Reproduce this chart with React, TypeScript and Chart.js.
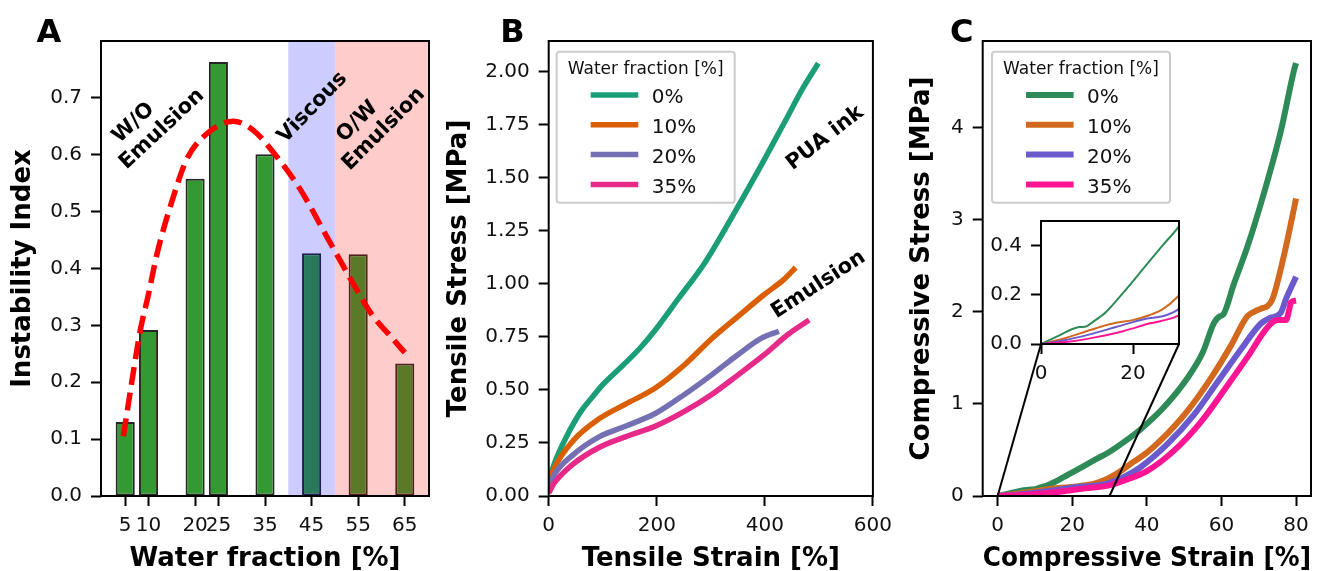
import React, { useEffect, useRef } from 'react';
import { Chart, registerables } from 'chart.js';

Chart.register(...registerables);

const FONT = "'DejaVu Sans', 'Liberation Sans', sans-serif";

// ---------- Panel A data ----------
const A_WATER = [5, 10, 20, 25, 35, 45, 55, 65];
const A_INSTABILITY = [0.13, 0.292, 0.558, 0.763, 0.601, 0.427, 0.425, 0.233];
const A_FIT_X = [4.6, 6.4, 8.2, 10, 11.8, 15.4, 18.2, 22.5, 28.2, 32.5, 36.8, 42.5, 48.2, 53.9, 58.2, 61.5, 65];
const A_FIT_Y = [0.105, 0.2, 0.29, 0.355, 0.425, 0.528, 0.592, 0.637, 0.659, 0.643, 0.604, 0.54, 0.457, 0.374, 0.316, 0.285, 0.252];
const A_X_TICKS = [5, 10, 20, 25, 35, 45, 55, 65];
const A_Y_TICKS = [0, 0.1, 0.2, 0.3, 0.4, 0.5, 0.6, 0.7];
const A_VISCOUS = [40, 50];
const A_OW = [50, 71];

// ---------- Panel B data ----------
const B_LABELS = ['0%', '10%', '20%', '35%'];
const B_STRAIN_0 = [0, 10, 33, 60, 82, 100, 137, 170, 198, 240, 289, 338, 387, 435, 472, 499];
const B_STRESS_0 = [0.07, 0.15, 0.28, 0.4, 0.47, 0.525, 0.615, 0.7, 0.785, 0.93, 1.1, 1.31, 1.53, 1.755, 1.93, 2.04];
const B_STRAIN_10 = [0, 10, 45, 94, 143, 198, 252, 301, 350, 399, 435, 457];
const B_STRESS_10 = [0.057, 0.13, 0.26, 0.365, 0.434, 0.51, 0.62, 0.74, 0.846, 0.95, 1.02, 1.077];
const B_STRAIN_20 = [0, 10, 45, 94, 143, 198, 252, 301, 350, 393, 426];
const B_STRESS_20 = [0.04, 0.1, 0.194, 0.28, 0.33, 0.39, 0.48, 0.57, 0.666, 0.743, 0.777];
const B_STRAIN_35 = [0, 10, 45, 94, 143, 198, 252, 301, 350, 399, 442, 482];
const B_STRESS_35 = [0.014, 0.06, 0.15, 0.23, 0.28, 0.33, 0.4, 0.477, 0.57, 0.666, 0.76, 0.83];
const B_X_TICKS = [0, 200, 400, 600];
const B_Y_TICKS = [0, 0.25, 0.5, 0.75, 1.0, 1.25, 1.5, 1.75, 2.0];

// ---------- Panel C data ----------
const C_LABELS = ['0%', '10%', '20%', '35%'];
const C_STRAIN_0 = [0, 3.4, 7, 8.4, 9.6, 11.3, 14.2, 17.8, 22.1, 26.4, 29.6, 34, 38.2, 44.5, 50.8, 55, 58, 59.5, 60.5, 63.3, 66.9, 71.4, 75.9, 79.5, 80];
const C_STRESS_0 = [0, 0.03, 0.062, 0.069, 0.07, 0.09, 0.131, 0.207, 0.303, 0.4, 0.469, 0.59, 0.72, 0.96, 1.275, 1.56, 1.88, 1.95, 1.97, 2.3, 2.7, 3.29, 3.96, 4.63, 4.7];
const C_STRAIN_10 = [0, 4.8, 9.9, 13, 16.3, 19.9, 23.5, 26.4, 29.6, 33, 36.4, 40, 43.6, 50.8, 57.1, 62.5, 66.9, 68.7, 71, 72.3, 73.7, 76.8, 80];
const C_STRESS_10 = [0, 0.021, 0.052, 0.07, 0.086, 0.097, 0.117, 0.141, 0.19, 0.27, 0.37, 0.47, 0.6, 0.92, 1.275, 1.63, 1.95, 2.0, 2.04, 2.06, 2.14, 2.62, 3.23];
const C_STRAIN_20 = [0, 4.8, 10.6, 16.3, 22.8, 26.4, 29.6, 34, 38.2, 45.4, 52.6, 58.9, 65.2, 70.5, 72.8, 75.9, 77.3, 80];
const C_STRESS_20 = [0, 0.014, 0.039, 0.069, 0.103, 0.113, 0.138, 0.21, 0.31, 0.56, 0.88, 1.235, 1.59, 1.87, 1.93, 1.99, 2.14, 2.38];
const C_STRAIN_35 = [0, 6.3, 12, 17.8, 23.5, 29.6, 34, 40, 47.2, 54.4, 61.6, 67, 72.3, 75, 77.3, 78.2, 78.6, 80];
const C_STRESS_35 = [0, 0.01, 0.028, 0.052, 0.083, 0.113, 0.17, 0.27, 0.49, 0.8, 1.2, 1.51, 1.83, 1.91, 1.91, 2.03, 2.1, 2.12];
const C_X_TICKS = [0, 20, 40, 60, 80];
const C_Y_TICKS = [0, 1, 2, 3, 4];
const INSET_X_TICKS = [0, 20];
const INSET_Y_TICKS = [0, 0.2, 0.4];

const LEGEND_TITLE = 'Water fraction [%]';
const B_COLORS = ['#1b9e77', '#d95f02', '#7570b3', '#e7298a'];
const C_COLORS = ['#2e8b57', '#d2691e', '#6a5acd', '#ff1493'];

// ---------- layout (page px) ----------
const A_POS = { left: 0, top: 0, width: 440, height: 571 };
const B_POS = { left: 440, top: 0, width: 460, height: 571 };
const C_POS = { left: 900, top: 0, width: 419, height: 571 };
const INSET_POS = { left: 980, top: 200, width: 210, height: 190 };

const TICK_FONT = 20;
const TITLE_FONT = 26;

const pts = (xs: number[], ys: number[]) => xs.map((x, i) => ({ x, y: ys[i] }));

type AxisCfg = {
  min: number; max: number; ticks: number[]; fmt: (v: number) => string;
  size: number; horizontal: boolean; title?: string; titlePad?: number;
};

function makeAxis(c: AxisCfg): any {
  return {
    type: 'linear',
    min: c.min,
    max: c.max,
    offset: false,
    afterBuildTicks: (s: any) => { s.ticks = c.ticks.map((v) => ({ value: v })); },
    afterFit: (s: any) => { if (c.horizontal) s.height = c.size; else s.width = c.size; },
    grid: { display: true, drawOnChartArea: false, drawTicks: true, tickLength: 10, tickWidth: 2, tickColor: '#000', offset: false },
    border: { display: false },
    ticks: {
      autoSkip: false, maxRotation: 0, minRotation: 0,
      padding: c.horizontal ? 8 : 9,
      color: '#111',
      font: { family: FONT, size: TICK_FONT },
      callback: (v: any) => c.fmt(Number(v)),
    },
    title: c.title
      ? {
          display: true, text: c.title, color: '#000',
          font: { family: FONT, size: TITLE_FONT, weight: 'bold', lineHeight: c.horizontal ? 0.9 : 1 },
          padding: c.horizontal ? { top: 0, bottom: 0 } : { top: c.titlePad ?? 0, bottom: 0 },
        }
      : { display: false },
  };
}

const framePlugin = {
  id: 'frame',
  afterDatasetsDraw(chart: any) {
    const { ctx, chartArea: ca } = chart;
    ctx.save();
    ctx.strokeStyle = '#000';
    ctx.lineWidth = 2;
    ctx.strokeRect(ca.left, ca.top, ca.width, ca.height);
    ctx.restore();
  },
};

function letterPlugin(letter: string, x: number, y: number) {
  return {
    id: 'letter' + letter,
    afterDraw(chart: any) {
      const ctx = chart.ctx;
      ctx.save();
      ctx.fillStyle = '#000';
      ctx.font = `bold 32px ${FONT}`;
      ctx.textAlign = 'left';
      ctx.textBaseline = 'alphabetic';
      ctx.fillText(letter, x, y);
      ctx.restore();
    },
  };
}

type Note = { text: string; x: number; y: number; angle: number };
function notesPlugin(notes: Note[]) {
  return {
    id: 'notes',
    afterDatasetsDraw(chart: any) {
      const { ctx, scales } = chart;
      ctx.save();
      ctx.fillStyle = '#000';
      ctx.font = `bold 21px ${FONT}`;
      ctx.textAlign = 'center';
      ctx.textBaseline = 'middle';
      for (const n of notes) {
        const px = scales.x.getPixelForValue(n.x);
        const py = scales.y.getPixelForValue(n.y);
        ctx.save();
        ctx.translate(px, py);
        ctx.rotate((-n.angle * Math.PI) / 180);
        ctx.fillText(n.text, 0, 0);
        ctx.restore();
      }
      ctx.restore();
    },
  };
}

function legendPlugin(dx: number, dy: number) {
  return {
    id: 'boxLegend',
    afterDatasetsDraw(chart: any) {
      const { ctx, chartArea: ca } = chart;
      const L = ca.left + dx;
      const T = ca.top + dy;
      const W = 178;
      const H = 151;
      const r = 3;
      ctx.save();
      ctx.beginPath();
      ctx.moveTo(L + r, T);
      ctx.lineTo(L + W - r, T);
      ctx.arcTo(L + W, T, L + W, T + r, r);
      ctx.lineTo(L + W, T + H - r);
      ctx.arcTo(L + W, T + H, L + W - r, T + H, r);
      ctx.lineTo(L + r, T + H);
      ctx.arcTo(L, T + H, L, T + H - r, r);
      ctx.lineTo(L, T + r);
      ctx.arcTo(L, T, L + r, T, r);
      ctx.closePath();
      ctx.fillStyle = 'rgba(255,255,255,0.85)';
      ctx.fill();
      ctx.strokeStyle = '#cccccc';
      ctx.lineWidth = 2;
      ctx.stroke();
      ctx.fillStyle = '#111';
      ctx.font = `17px ${FONT}`;
      ctx.textAlign = 'center';
      ctx.textBaseline = 'alphabetic';
      ctx.fillText(LEGEND_TITLE, L + W / 2, T + 22.6);
      chart.data.datasets.forEach((ds: any, i: number) => {
        const cy = T + 43.3 + i * 29.8;
        ctx.strokeStyle = ds.borderColor;
        ctx.lineWidth = ds.borderWidth;
        ctx.lineCap = 'butt';
        ctx.beginPath();
        ctx.moveTo(L + 34, cy);
        ctx.lineTo(L + 81.6, cy);
        ctx.stroke();
        ctx.fillStyle = '#111';
        ctx.font = `20px ${FONT}`;
        ctx.textAlign = 'left';
        ctx.fillText(ds.label, L + 95, T + 51.6 + i * 29.8);
      });
      ctx.restore();
    },
  };
}

const spanPlugin = {
  id: 'spans',
  afterDatasetDraw(chart: any, args: any) {
    if (args.index !== 0) return;
    const { ctx, chartArea: ca, scales } = chart;
    const spans = [
      { range: A_VISCOUS, color: 'rgba(0,0,255,0.2)' },
      { range: A_OW, color: 'rgba(255,0,0,0.2)' },
    ];
    ctx.save();
    ctx.beginPath();
    ctx.rect(ca.left, ca.top, ca.width, ca.height);
    ctx.clip();
    for (const s of spans) {
      const x0 = scales.x.getPixelForValue(s.range[0]);
      const x1 = scales.x.getPixelForValue(s.range[1]);
      ctx.fillStyle = s.color;
      ctx.fillRect(x0, ca.top, x1 - x0, ca.height);
    }
    ctx.restore();
  },
};

function lineSets(labels: string[], colors: string[], series: { x: number; y: number }[][], width: number) {
  const n = series.length;
  return series.map((d, i) => ({
    type: 'line',
    label: labels[i],
    data: d,
    borderColor: colors[i],
    backgroundColor: colors[i],
    borderWidth: width,
    pointRadius: 0,
    fill: false,
    cubicInterpolationMode: 'monotone',
    order: n - 1 - i,
  }));
}

export default function App() {
  const aRef = useRef<HTMLCanvasElement>(null);
  const bRef = useRef<HTMLCanvasElement>(null);
  const cRef = useRef<HTMLCanvasElement>(null);
  const iRef = useRef<HTMLCanvasElement>(null);

  useEffect(() => {
    const charts: Chart[] = [];
    const common = { responsive: false, animation: false as const, devicePixelRatio: 1, events: [] as any[] };

    // ----- Panel A -----
    const chartA = new Chart(aRef.current!, {
      type: 'bar',
      data: {
        datasets: [
          {
            type: 'bar',
            label: 'Instability index',
            data: pts(A_WATER, A_INSTABILITY),
            backgroundColor: '#339933',
            borderColor: 'rgba(0,0,0,0.85)',
            borderWidth: 2,
            borderSkipped: false,
            categoryPercentage: 1,
            barPercentage: 0.82,
            order: 1,
          } as any,
          {
            type: 'line',
            label: 'fit',
            data: pts(A_FIT_X, A_FIT_Y),
            borderColor: '#ff0000',
            borderWidth: 5.5,
            borderDash: [18, 8],
            pointRadius: 0,
            fill: false,
            cubicInterpolationMode: 'monotone',
            order: 0,
          } as any,
        ],
      },
      options: {
        ...common,
        layout: { padding: { left: 0, right: 11, top: 41, bottom: 0 } },
        plugins: { legend: { display: false }, tooltip: { enabled: false } },
        scales: {
          x: makeAxis({ min: -0.2, max: 70.2, ticks: A_X_TICKS, fmt: (v) => String(v), size: 75, horizontal: true, title: 'Water fraction [%]' }),
          y: makeAxis({ min: 0, max: 0.8, ticks: A_Y_TICKS, fmt: (v) => v.toFixed(1), size: 101, horizontal: false, title: 'Instability Index', titlePad: 10 }),
        },
      } as any,
      plugins: [
        spanPlugin,
        framePlugin,
        notesPlugin([
          { text: 'W/O', x: 6.8, y: 0.656, angle: 43 },
          { text: 'Emulsion', x: 12.9, y: 0.645, angle: 43 },
          { text: 'Viscous', x: 45.2, y: 0.683, angle: 46 },
          { text: 'O/W', x: 54.8, y: 0.658, angle: 45 },
          { text: 'Emulsion', x: 60.5, y: 0.645, angle: 45 },
        ]),
        letterPlugin('A', 36.5, 41.7),
      ] as any,
    });
    charts.push(chartA);

    // ----- Panel B -----
    const chartB = new Chart(bRef.current!, {
      type: 'line',
      data: {
        datasets: lineSets(B_LABELS, B_COLORS, [
          pts(B_STRAIN_0, B_STRESS_0),
          pts(B_STRAIN_10, B_STRESS_10),
          pts(B_STRAIN_20, B_STRESS_20),
          pts(B_STRAIN_35, B_STRESS_35),
        ], 5.5) as any,
      },
      options: {
        ...common,
        layout: { padding: { left: 0, right: 23.3, top: 41, bottom: 0 } },
        plugins: { legend: { display: false }, tooltip: { enabled: false } },
        scales: {
          x: makeAxis({ min: 0, max: 600, ticks: B_X_TICKS, fmt: (v) => String(v), size: 75, horizontal: true, title: 'Tensile Strain [%]' }),
          y: makeAxis({ min: 0, max: 2.145, ticks: B_Y_TICKS, fmt: (v) => v.toFixed(2), size: 108.7, horizontal: false, title: 'Tensile Stress [MPa]', titlePad: 6 }),
        },
      } as any,
      plugins: [
        framePlugin,
        legendPlugin(8, 10.7),
        notesPlugin([
          { text: 'PUA ink', x: 511.5, y: 1.687, angle: 38 },
          { text: 'Emulsion', x: 499.4, y: 0.996, angle: 33 },
        ]),
        letterPlugin('B', 60.3, 42),
      ] as any,
    });
    charts.push(chartB);

    // ----- Inset (created before C so C can draw the connector lines) -----
    const cSeries = [
      pts(C_STRAIN_0, C_STRESS_0),
      pts(C_STRAIN_10, C_STRESS_10),
      pts(C_STRAIN_20, C_STRESS_20),
      pts(C_STRAIN_35, C_STRESS_35),
    ];
    const chartI = new Chart(iRef.current!, {
      type: 'line',
      data: { datasets: lineSets(C_LABELS, C_COLORS, cSeries, 2) as any },
      options: {
        ...common,
        layout: { padding: { left: 0, right: 11, top: 21, bottom: 0 } },
        plugins: { legend: { display: false }, tooltip: { enabled: false } },
        scales: {
          x: makeAxis({ min: 0, max: 30, ticks: INSET_X_TICKS, fmt: (v) => String(v), size: 46, horizontal: true }),
          y: makeAxis({ min: 0, max: 0.5, ticks: INSET_Y_TICKS, fmt: (v) => v.toFixed(1), size: 61, horizontal: false }),
        },
      } as any,
      plugins: [framePlugin] as any,
    });

    const connectorPlugin = {
      id: 'connector',
      afterDatasetsDraw(chart: any) {
        const ia = chartI.chartArea;
        if (!ia) return;
        const ox = INSET_POS.left - C_POS.left;
        const oy = INSET_POS.top - C_POS.top;
        const { x, y } = chart.scales;
        const ix = chartI.scales.x as any;
        const iy = chartI.scales.y as any;
        const segs = [
          [ia.left + ox, ia.bottom + oy, x.getPixelForValue(ix.min), y.getPixelForValue(iy.min)],
          [ia.right + ox, ia.bottom + oy, x.getPixelForValue(ix.max), y.getPixelForValue(iy.min)],
        ];
        const ctx = chart.ctx;
        ctx.save();
        ctx.strokeStyle = '#000';
        ctx.lineWidth = 2;
        for (const s of segs) {
          ctx.beginPath();
          ctx.moveTo(s[0], s[1]);
          ctx.lineTo(s[2], s[3]);
          ctx.stroke();
        }
        ctx.restore();
      },
    };

    // ----- Panel C -----
    const chartC = new Chart(cRef.current!, {
      type: 'line',
      data: { datasets: lineSets(C_LABELS, C_COLORS, cSeries, 6) as any },
      options: {
        ...common,
        layout: { padding: { left: 0, right: 8, top: 41, bottom: 0 } },
        plugins: { legend: { display: false }, tooltip: { enabled: false } },
        scales: {
          x: makeAxis({ min: -4, max: 84, ticks: C_X_TICKS, fmt: (v) => String(v), size: 75, horizontal: true, title: 'Compressive Strain [%]' }),
          y: makeAxis({ min: 0, max: 4.94, ticks: C_Y_TICKS, fmt: (v) => String(v), size: 82.7, horizontal: false, title: 'Compressive Stress [MPa]', titlePad: 9.5 }),
        },
      } as any,
      plugins: [framePlugin, connectorPlugin, legendPlugin(9.3, 10.7), letterPlugin('C', 50, 42)] as any,
    });
    charts.push(chartC);
    charts.push(chartI);

    return () => charts.forEach((c) => c.destroy());
  }, []);

  const cv = (p: { left: number; top: number; width: number; height: number }) => ({
    position: 'absolute' as const,
    left: p.left,
    top: p.top,
    width: p.width,
    height: p.height,
  });

  return (
    <div style={{ position: 'absolute', left: 0, top: 0, width: 1319, height: 571, background: '#fff', overflow: 'hidden' }}>
      <canvas ref={aRef} width={A_POS.width} height={A_POS.height} style={cv(A_POS)} />
      <canvas ref={bRef} width={B_POS.width} height={B_POS.height} style={cv(B_POS)} />
      <canvas ref={cRef} width={C_POS.width} height={C_POS.height} style={cv(C_POS)} />
      <canvas ref={iRef} width={INSET_POS.width} height={INSET_POS.height} style={cv(INSET_POS)} />
    </div>
  );
}
